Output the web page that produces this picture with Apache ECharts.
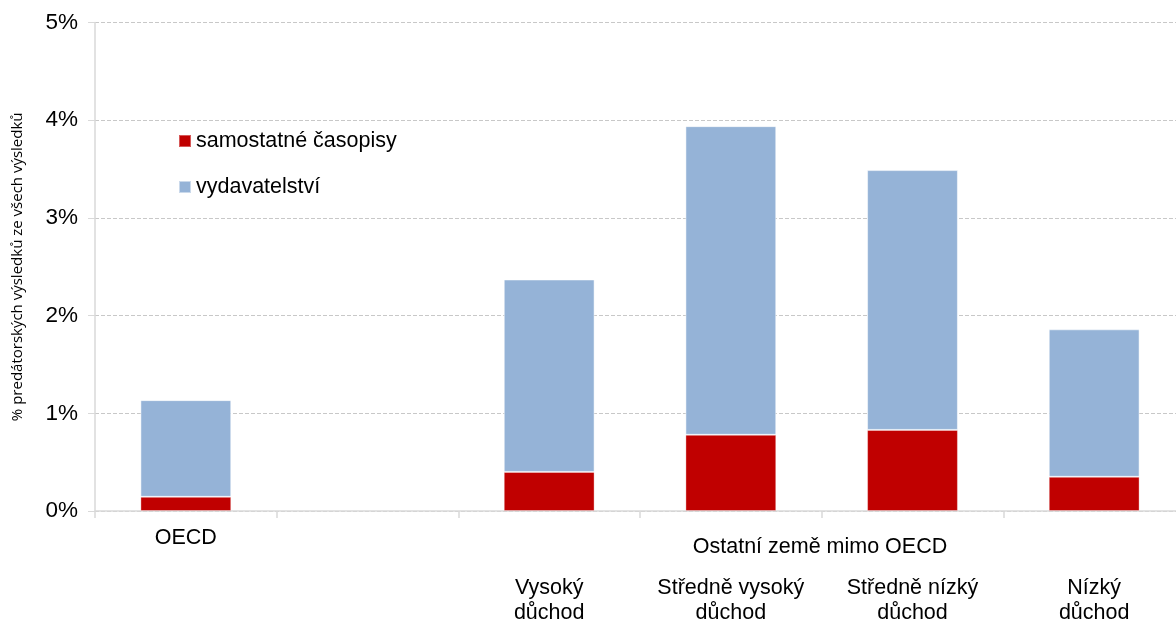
<!DOCTYPE html>
<html>
<head>
<meta charset="utf-8">
<script src="https://cdn.jsdelivr.net/npm/echarts@6/dist/echarts.min.js"></script>
<style>
html,body{margin:0;padding:0;background:#fff;}
#chart{width:1176px;height:621px;}
</style>
</head>
<body>
<div id="chart"></div>
<script>
const categories = ['OECD', '', '\n\nVysoký\ndůchod', '\n\nStředně vysoký\ndůchod', '\n\nStředně nízký\ndůchod', '\n\nNízký\ndůchod'];
const seriesNames = ['samostatné časopisy', 'vydavatelství'];
const standalone = [0.145, null, 0.40, 0.78, 0.83, 0.35];
const publishers = [0.99, null, 1.97, 3.16, 2.66, 1.51];
const yTicks = [0, 1, 2, 3, 4, 5];
const groupLabel = 'Ostatní země mimo OECD';
const yTitle = '% predátorských výsledků ze všech výsledků';

const chart = echarts.init(document.getElementById('chart'));
const font = 'Liberation Sans, Arial, sans-serif';
chart.setOption({
  animation: false,
  textStyle: {fontFamily: font},
  grid: {left: 95, width: 1090, top: 22.6, bottom: 110, containLabel: false, outerBoundsMode: 'none'},
  legend: {
    orient: 'vertical', left: 173, top: 125,
    itemWidth: 12, itemHeight: 12, itemGap: 24, icon: 'rect',
    textStyle: {fontSize: 21.5, color: '#000', fontFamily: font},
    data: seriesNames
  },
  xAxis: {
    type: 'category', data: categories,
    axisLine: {show: true, lineStyle: {color: '#d9d9d9', width: 1.5}},
    axisTick: {show: true, length: 7, lineStyle: {color: '#d9d9d9', width: 1.5}},
    axisLabel: {color: '#000', fontSize: 21.5, lineHeight: 25, margin: 15, interval: 0, fontFamily: font}
  },
  yAxis: {
    type: 'value', min: yTicks[0], max: yTicks[yTicks.length - 1], interval: 1,
    name: yTitle, nameLocation: 'middle', nameRotate: 90, nameGap: 70,
    nameTextStyle: {fontSize: 15, color: '#000', fontFamily: 'Open Sans, sans-serif'},
    axisLine: {show: true, lineStyle: {color: '#d9d9d9', width: 1.5}},
    axisTick: {show: true, length: 7, lineStyle: {color: '#d9d9d9'}},
    axisLabel: {color: '#000', fontSize: 22.5, margin: 17, formatter: '{value}%', fontFamily: font},
    splitLine: {show: true, lineStyle: {color: '#c8c8c8', type: [4, 2], width: 1}}
  },
  graphic: [{
    type: 'text', x: 820, y: 547,
    style: {text: groupLabel, fontSize: 21.5, fill: '#000', fontFamily: font, align: 'center', verticalAlign: 'middle'}
  }],
  series: [
    {name: seriesNames[0], type: 'bar', stack: 'a', data: standalone, barWidth: '50%',
     itemStyle: {color: '#C00000', borderColor: 'rgba(255,255,255,0.35)', borderWidth: 1}},
    {name: seriesNames[1], type: 'bar', stack: 'a', data: publishers, barWidth: '50%',
     itemStyle: {color: '#95B3D7', borderColor: 'rgba(255,255,255,0.5)', borderWidth: 1}}
  ]
});
</script>
</body>
</html>
